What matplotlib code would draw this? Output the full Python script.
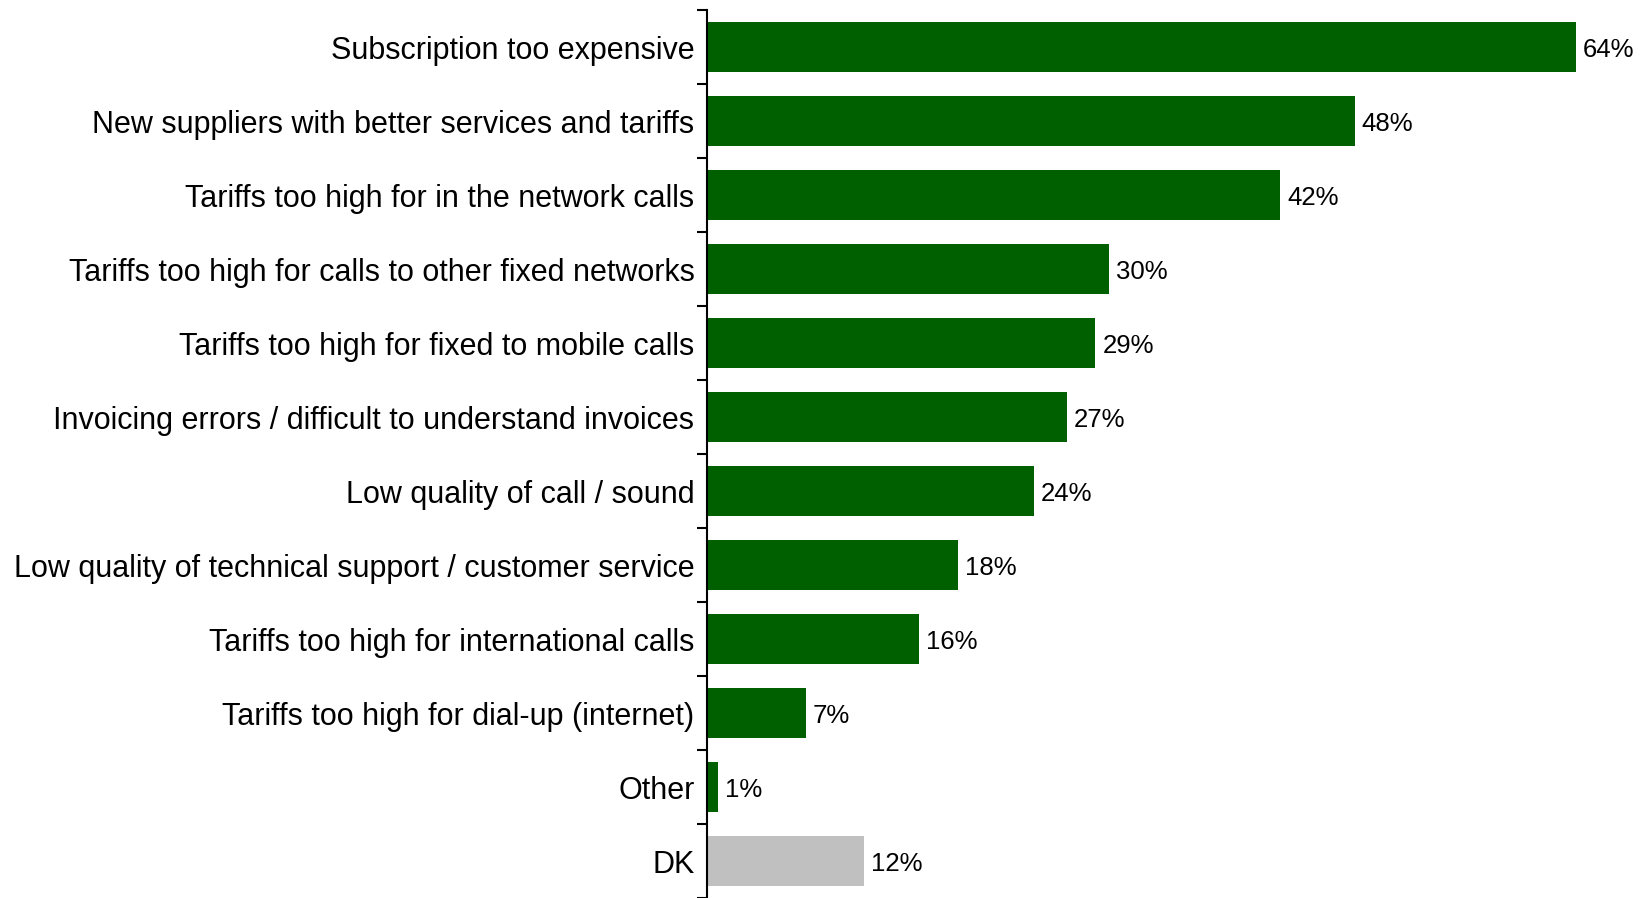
import numpy as np
import matplotlib.pyplot as plt

plt.rcParams['font.family'] = ['Liberation Sans', 'DejaVu Sans']

categories = ["Subscription too expensive",
              "New suppliers with better services and tariffs",
              "Tariffs too high for in the network calls",
              "Tariffs too high for calls to other fixed networks",
              "Tariffs too high for fixed to mobile calls",
              "Invoicing errors / difficult to understand invoices",
              "Low quality of call / sound",
              "Low quality of technical support / customer service",
              "Tariffs too high for international calls",
              "Tariffs too high for dial-up (internet)",
              "Other",
              "DK"]
# bar lengths (labels are the rounded values)
values = [64.0, 47.7, 42.2, 29.6, 28.6, 26.5, 24.1, 18.5, 15.6, 7.3, 0.8, 11.6]
labels = ["64%", "48%", "42%", "30%", "29%", "27%", "24%", "18%", "16%", "7%", "1%", "12%"]
colors = ["#006000"] * 11 + ["#C0C0C0"]

fig = plt.figure(figsize=(16.44, 8.98), dpi=100)
ax = fig.add_axes([0.43, 0.0, 0.57, 1 - 10 / 898])

y = np.arange(len(categories))
ax.barh(y, values, height=0.67, color=colors)

for yi, v, lab in zip(y, values, labels):
    ax.annotate(lab, (v, yi), xytext=(5, 0), textcoords="offset points",
                va="center_baseline", ha="left", fontsize=18.5)

ax.set_xlim(0, 69)
ax.set_ylim(len(categories) - 0.5, -0.5)

# ticks between the categories, labels at the centres
ax.set_yticks(np.arange(-0.5, len(categories), 1))
ax.set_yticklabels([])
ax.tick_params(axis="y", which="major", length=7, width=1.5, direction="out")
ax.set_yticks(y, minor=True)
ax.set_yticklabels(categories, minor=True, fontsize=22)
ax.tick_params(axis="y", which="minor", length=0, pad=9)
for t in ax.get_yticklabels(minor=True):
    t.set_verticalalignment("center_baseline")

ax.set_xticks([])
for s in ["top", "right", "bottom"]:
    ax.spines[s].set_visible(False)
ax.spines["left"].set_linewidth(1.5)

fig.savefig("out.png", dpi=100)
